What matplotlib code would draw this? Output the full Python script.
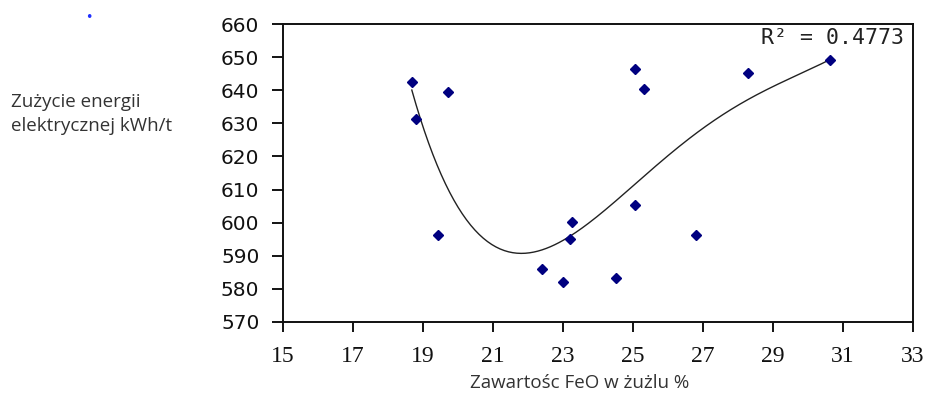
import numpy as np
import matplotlib
matplotlib.use("Agg")
import matplotlib.pyplot as plt

# FeO content in slag (%) and electric energy consumption (kWh/t)
feo = [18.68, 18.80, 19.42, 19.72, 22.39, 23.01, 23.20, 23.27,
       24.50, 25.06, 25.06, 25.31, 26.79, 28.29, 30.63]
energy = [642.4, 631.2, 596.2, 639.6, 586.0, 582.2, 595.0, 600.1,
          583.3, 605.2, 646.4, 640.3, 596.3, 645.3, 649.1]

x_ticks = [15, 17, 19, 21, 23, 25, 27, 29, 31, 33]
y_ticks = [570, 580, 590, 600, 610, 620, 630, 640, 650, 660]

series_label = "Zużycie energii\nelektrycznej kWh/t"
x_label = "Zawartośc FeO w żużlu %"
r2_text = "R² = 0.4773"
trend_degree = 4

fig = plt.figure(figsize=(9.27, 3.97), dpi=100)
ax = fig.add_axes([0.3053, 0.189, 0.6796, 0.7505])

ax.plot(feo, energy, linestyle="none", marker="D", markersize=5,
        color="#000080", zorder=3)

# Polynomial trend line over the data range
coef = np.polyfit(feo, energy, trend_degree)
xs = np.linspace(min(feo), max(feo), 200)
ax.plot(xs, np.polyval(coef, xs), color="#222222", linewidth=1.0, zorder=2)

ax.set_xlim(x_ticks[0], x_ticks[-1])
ax.set_ylim(y_ticks[0], y_ticks[-1])
ax.set_xticks(x_ticks)
ax.set_yticks(y_ticks)
ax.set_xticklabels([str(t) for t in x_ticks], family="Liberation Serif",
                   fontsize=17, color="#111111")
ax.set_yticklabels([str(t) for t in y_ticks], family="DejaVu Sans",
                   fontsize=14.5, color="#111111")
ax.tick_params(axis="x", direction="out", length=7, width=1.3, pad=10)
ax.tick_params(axis="y", direction="out", length=8, width=1.3, pad=9)
for s in ax.spines.values():
    s.set_linewidth(1.4)
    s.set_color("#111111")

ax.set_xlabel(x_label, family="Open Sans", fontsize=13.5, color="#333333")
ax.xaxis.set_label_coords(0.471, -0.175)
ax.xaxis.label.set_va("top")

ax.text(0.985, 0.985, r2_text, transform=ax.transAxes, ha="right", va="top",
        family="DejaVu Sans Mono", fontsize=15.5, color="#222222")

# Legend entry placed to the left of the plot
fig.text(89 / 927, 1 - 18 / 397, "•", color="#2030ff", fontsize=9,
         ha="center", va="center")
fig.text(11 / 927, 1 - 114 / 397, series_label, family="Open Sans",
         fontsize=13.5, color="#333333", ha="left", va="center",
         linespacing=1.45)

fig.savefig("out.png", dpi=100, facecolor="white")
